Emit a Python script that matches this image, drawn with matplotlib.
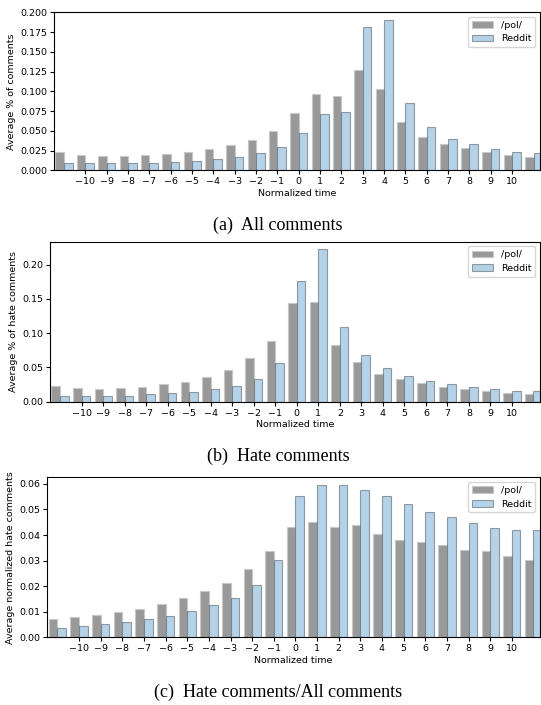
import numpy as np
import matplotlib
matplotlib.use("Agg")
import matplotlib.pyplot as plt
from matplotlib.ticker import MultipleLocator

times = list(range(-11, 12))

# (a) all comments
all_pol = [0.0233, 0.0195, 0.0186, 0.0186, 0.0199, 0.0212, 0.0229, 0.0267, 0.0318, 0.0390, 0.0500,
           0.0730, 0.0960, 0.0943, 0.1264, 0.1027, 0.0606, 0.0424, 0.0330, 0.0280, 0.0233, 0.0199, 0.0169]
all_reddit = [0.0093, 0.0089, 0.0089, 0.0089, 0.0097, 0.0106, 0.0119, 0.0140, 0.0170, 0.0216, 0.0297,
              0.0477, 0.0715, 0.0744, 0.1810, 0.1903, 0.0850, 0.0547, 0.0400, 0.0330, 0.0271, 0.0237, 0.0216]

# (b) hate comments
hate_pol = [0.0225, 0.0196, 0.0190, 0.0200, 0.0216, 0.0260, 0.0294, 0.0363, 0.0466, 0.0632, 0.0892,
            0.1437, 0.1451, 0.0824, 0.0574, 0.0407, 0.0328, 0.0275, 0.0220, 0.0186, 0.0157, 0.0132, 0.0108]
hate_reddit = [0.0083, 0.0078, 0.0083, 0.0088, 0.0113, 0.0123, 0.0142, 0.0180, 0.0230, 0.0333, 0.0564,
               0.1762, 0.2223, 0.1088, 0.0686, 0.0490, 0.0377, 0.0304, 0.0260, 0.0216, 0.0186, 0.0162, 0.0152]

# (c) hate / all
norm_pol = [0.0070, 0.0078, 0.0087, 0.0099, 0.0112, 0.0130, 0.0153, 0.0182, 0.0214, 0.0266, 0.0339,
            0.0432, 0.0452, 0.0433, 0.0439, 0.0404, 0.0382, 0.0373, 0.0360, 0.0343, 0.0338, 0.0317, 0.0304]
norm_reddit = [0.0038, 0.0044, 0.0052, 0.0060, 0.0073, 0.0084, 0.0101, 0.0125, 0.0153, 0.0206, 0.0301,
               0.0554, 0.0596, 0.0595, 0.0575, 0.0553, 0.0523, 0.0489, 0.0472, 0.0446, 0.0426, 0.0419, 0.0419]

panels = [
    (all_pol, all_reddit, "Average % of comments", "(a)  All comments", 0.025, (0, 0.2), "%.3f"),
    (hate_pol, hate_reddit, "Average % of hate comments", "(b)  Hate comments", 0.05, None, "%.2f"),
    (norm_pol, norm_reddit, "Average normalized hate comments", "(c)  Hate comments/All comments", 0.01, None, "%.2f"),
]
rects = [[0.0998, 0.7584, 0.8982, 0.2242],
         [0.0924, 0.4302, 0.9056, 0.2270],
         [0.0874, 0.0960, 0.9106, 0.2270]]
cap_y = [0.680, 0.352, 0.018]

FS = 6.8
fig = plt.figure(figsize=(5.41, 7.05), dpi=100)
x = np.array(times)
w = 0.4
for (pol, red, ylab, cap, step, ylim, fmt), rect, cy in zip(panels, rects, cap_y):
    ax = fig.add_axes(rect)
    ax.bar(x - w/2, pol, width=w, color="#999999", edgecolor="#c8c8c8", linewidth=0.8, label="/pol/")
    ax.bar(x + w/2, red, width=w, color="#b4d2e8", edgecolor=(0, 0, 0, 0.35), linewidth=0.8, label="Reddit")
    ax.set_xlim(-11.47, 11.3)
    if ylim:
        ax.set_ylim(*ylim)
    else:
        top = max(max(pol), max(red)) * 1.05
        ax.set_ylim(0, top)
    ax.yaxis.set_major_locator(MultipleLocator(step))
    ax.yaxis.set_major_formatter(matplotlib.ticker.FormatStrFormatter(fmt))
    ax.set_xticks(range(-10, 11))
    ax.tick_params(labelsize=FS, length=3, width=0.8, pad=2)
    ax.set_xlabel("Normalized time", fontsize=FS, labelpad=2)
    ax.set_ylabel(ylab, fontsize=FS, labelpad=3)
    ax.legend(loc="upper right", fontsize=FS, handlelength=2.3, borderaxespad=0.5)
    fig.text(0.514, cy, cap, ha="center", va="center", fontsize=13,
             family=["Liberation Serif", "DejaVu Serif"])

fig.savefig("out.png", dpi=100)
